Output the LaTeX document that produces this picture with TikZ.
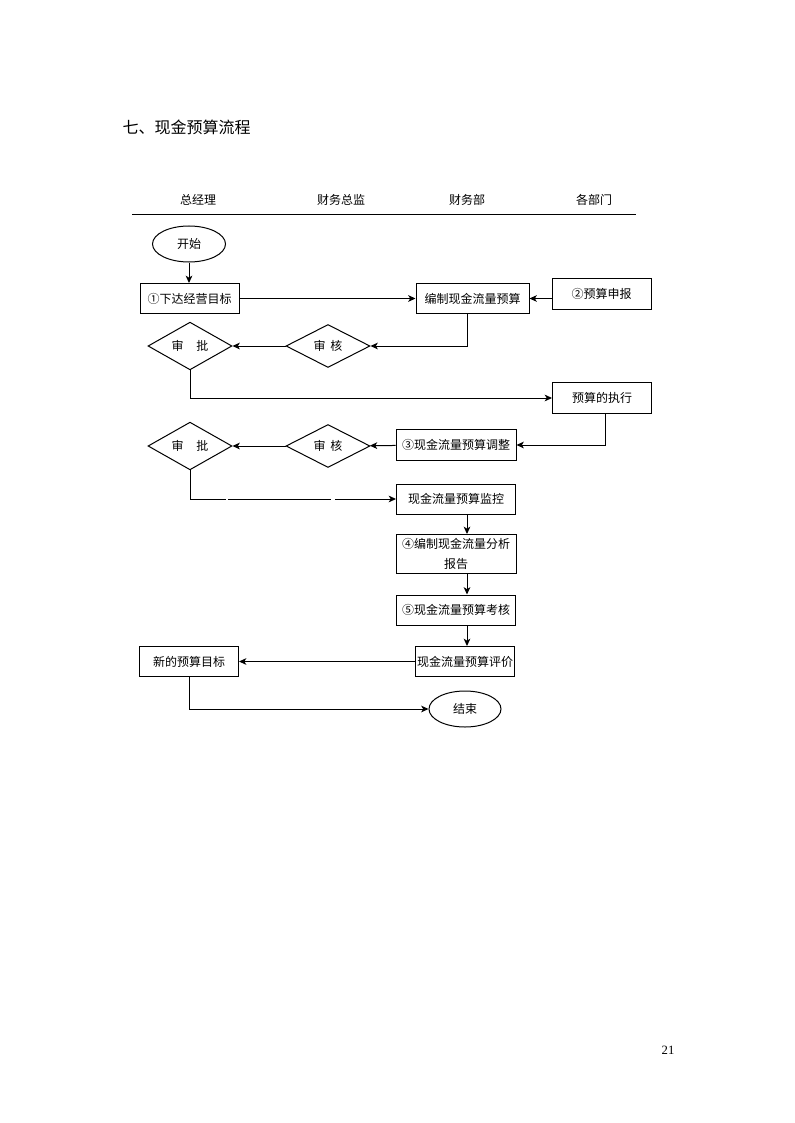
\documentclass[tikz,border=0pt]{standalone}
\usepackage{fontspec}
\setmainfont{Liberation Serif}
\newfontfamily\cjk{Noto Sans CJK SC}
\usetikzlibrary{arrows.meta,calc,positioning,shapes.geometric}

\begin{document}
\begin{tikzpicture}[x=0.75pt,y=-0.75pt,
		txt/.style={font=\cjk\fontsize{9}{11}\selectfont},
		box/.style={txt,draw,line width=0.75pt,inner sep=0pt},
		decide/.style={txt,draw,line width=0.75pt,diamond,inner sep=0pt,minimum width=63pt,minimum height=32.25pt},
		term/.style={txt,draw,line width=0.75pt,ellipse,inner sep=0pt},
		arr/.style={line width=0.75pt,-{Stealth[length=5.5pt,width=5pt,inset=1.5pt]}}]
		\useasboundingbox (0,0) rectangle (795,1123);
		\node[anchor=west,font=\cjk\fontsize{12}{14}\selectfont] (title) at (118,127) {七、现金预算流程};
		\node[txt] (hzjl) at (198,200) {总经理};
		\node[txt] (hcwzj) at (341,200) {财务总监};
		\node[txt] (hcwb) at (467,200) {财务部};
		\node[txt] (hgbm) at (594,200) {各部门};
		\draw[line width=0.75pt] (132,215) -- (636,215);
		\coordinate (col) at (467,0);
		\node[term,minimum width=54.75pt,minimum height=27pt] (start) at (189,244) {开始};
		\node[box,minimum width=74.25pt,minimum height=22.5pt] (xdmb) at (189.5,298.5) {①下达经营目标};
		\node[box,minimum width=84.75pt,minimum height=22.5pt] (bzys) at (472.5,298.5) {编制现金流量预算};
		\node[box,minimum width=74.25pt,minimum height=23.25pt] (yssb) at (601.5,293.5) {②预算申报};
		\node[decide] (sp1) at (190,346) {审\hspace{1.05em}批};
		\node[decide] (sh1) at (328,346) {审\hspace{0.4em}核};
		\node[box,minimum width=74.25pt,minimum height=23.25pt] (yszx) at (602,398) {预算的执行};
		\node[box,minimum width=90pt,minimum height=23.25pt] (ystz) at (456,445) {③现金流量预算调整};
		\node[decide] (sh2) at (328,446) {审\hspace{0.4em}核};
		\node[decide] (sp2) at (190,446) {审\hspace{1.05em}批};
		\node[box,minimum width=89.25pt,minimum height=22.5pt] (ysjk) at (456,499) {现金流量预算监控};
		\node[box,minimum width=90pt,minimum height=29.25pt,align=center,font=\cjk\fontsize{9}{15.5}\selectfont] (fxbg) at (456,554) {④编制现金流量分析\\报告};
		\node[box,minimum width=89.25pt,minimum height=22.5pt] (yskh) at (456,610) {⑤现金流量预算考核};
		\node[box,minimum width=74.25pt,minimum height=22.5pt] (yspj) at (465,661.5) {现金流量预算评价};
		\node[box,minimum width=74.25pt,minimum height=22.5pt] (xmb) at (189,661.5) {新的预算目标};
		\node[term,minimum width=54pt,minimum height=27pt] (end) at (465,709) {结束};
		\node[font=\fontsize{9.5}{11}\selectfont] (page) at (668,1050) {21};
		\draw[arr] (start.south) -- (xdmb.north -| start);
		\draw[arr] (xdmb) -- (bzys);
		\draw[arr] (yssb.west |- bzys) -- (bzys.east);
		\draw[arr] (bzys.south -| col) |- (sh1.east);
		\draw[arr] (sh1) -- (sp1);
		\draw[arr] (sp1.south) |- (yszx.west);
		\draw[arr] ([xshift=2.25pt]yszx.south) |- (ystz.east);
		\draw[arr] (ystz) -- (sh2);
		\draw[arr] (sh2) -- (sp2);
		\draw[arr,dash pattern=on 48.4pt off 1.8pt on 77pt off 3pt on 80pt] (sp2.south) |- (ysjk.west);
		\draw[arr] (ysjk.south -| col) -- (fxbg.north -| col);
		\draw[arr] (fxbg.south -| col) -- (yskh.north -| col);
		\draw[arr] (yskh.south -| col) -- (yspj.north -| col);
		\draw[arr] (yspj) -- (xmb);
		\draw[arr] (xmb.south) |- (end.west);
\end{tikzpicture}
\end{document}
